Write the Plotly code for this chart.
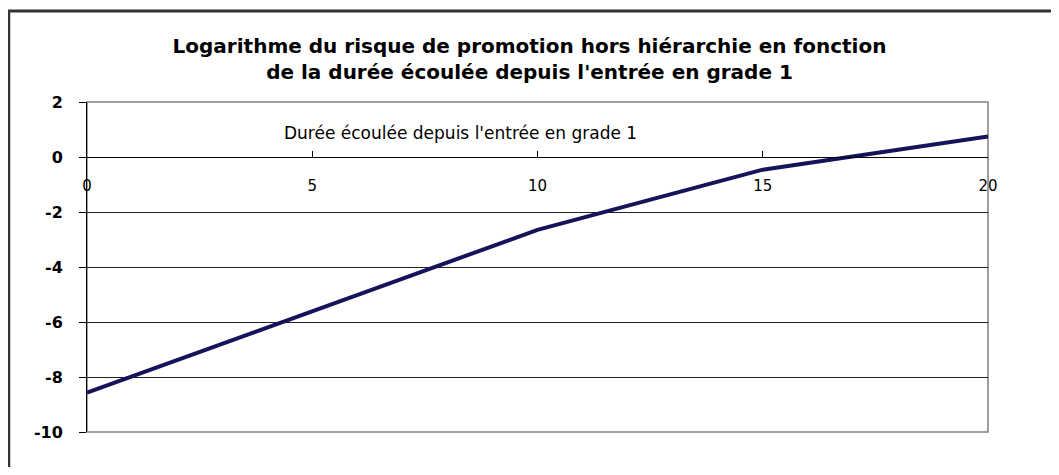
import plotly.graph_objects as go

# Data
duree = [0, 5, 10, 15, 20]
log_risque = [-8.57, -5.62, -2.65, -0.46, 0.75]

x_ticks = [0, 5, 10, 15, 20]
y_ticks = [-10, -8, -6, -4, -2, 0, 2]

title_text = ("<b>Logarithme du risque de promotion hors hiérarchie en fonction<br>"
              "de la durée écoulée depuis l'entrée en grade 1</b>")
x_title = "Durée écoulée depuis l'entrée en grade 1"

FONT = "DejaVu Sans, Arial, sans-serif"

# page has an 8px body margin: figure coords = page coords - 8
W, H = 1043, 459
L, T = 79, 94
pw, ph = 901, 330
R, B = W - L - pw, H - T - ph

fig = go.Figure()
fig.add_trace(go.Scatter(
    x=duree, y=log_risque, mode="lines",
    line=dict(color="#14145a", width=4),
    showlegend=False, hoverinfo="x+y",
))

ymin, ymax = -10, 2
fig.update_layout(
    width=W, height=H,
    margin=dict(l=L, r=R, t=T, b=B),
    paper_bgcolor="white", plot_bgcolor="white",
    font=dict(family=FONT, color="black"),
    title=dict(text=title_text, x=0.5, xanchor="center", y=1 - 45 / H, yanchor="middle",
               font=dict(size=20, color="black", family=FONT)),
    xaxis=dict(
        range=[0, 20], tickvals=x_ticks, ticktext=[str(v) for v in x_ticks],
        anchor="free", position=(0 - ymin) / (ymax - ymin), side="bottom",
        showline=True, linecolor="black", linewidth=1,
        ticks="inside", ticklen=6, tickcolor="black",
        ticklabelstandoff=15,
        showgrid=False, zeroline=False,
        tickfont=dict(size=15, color="black", family=FONT),
        title=dict(text=""),
    ),
    yaxis=dict(
        range=[ymin, ymax], tickvals=y_ticks, ticktext=[str(v) for v in y_ticks],
        showline=True, linecolor="black", linewidth=1,
        ticks="outside", ticklen=7, tickcolor="black",
        ticklabelstandoff=13,
        showgrid=True, gridcolor="#222222", gridwidth=1,
        zeroline=False,
        tickfont=dict(size=16, color="black", family=FONT, weight="bold"),
    ),
)

# Axis title placed inside the plot, above the x axis line
fig.add_annotation(
    text=x_title, xref="x", yref="y", x=8.3, y=0.87, showarrow=False,
    xanchor="center", yanchor="middle",
    font=dict(size=17, color="black", family=FONT),
)

# Plot area border (gray)
fig.add_shape(type="rect", xref="x domain", yref="y domain", x0=0, x1=1, y0=0, y1=1,
              line=dict(color="#808080", width=1.5), layer="below")

def px(fx):
    return (fx - L) / pw

def py(fy):
    return (H - B - fy) / ph

# Outer chart frame (top and left edges)
fig.add_shape(type="line", xref="paper", yref="paper",
              x0=px(0), x1=px(W), y0=py(3), y1=py(3),
              line=dict(color="#333333", width=3))
fig.add_shape(type="line", xref="paper", yref="paper",
              x0=px(1), x1=px(1), y0=py(3), y1=py(H),
              line=dict(color="#333333", width=2.5))

fig.write_html("out.html")
